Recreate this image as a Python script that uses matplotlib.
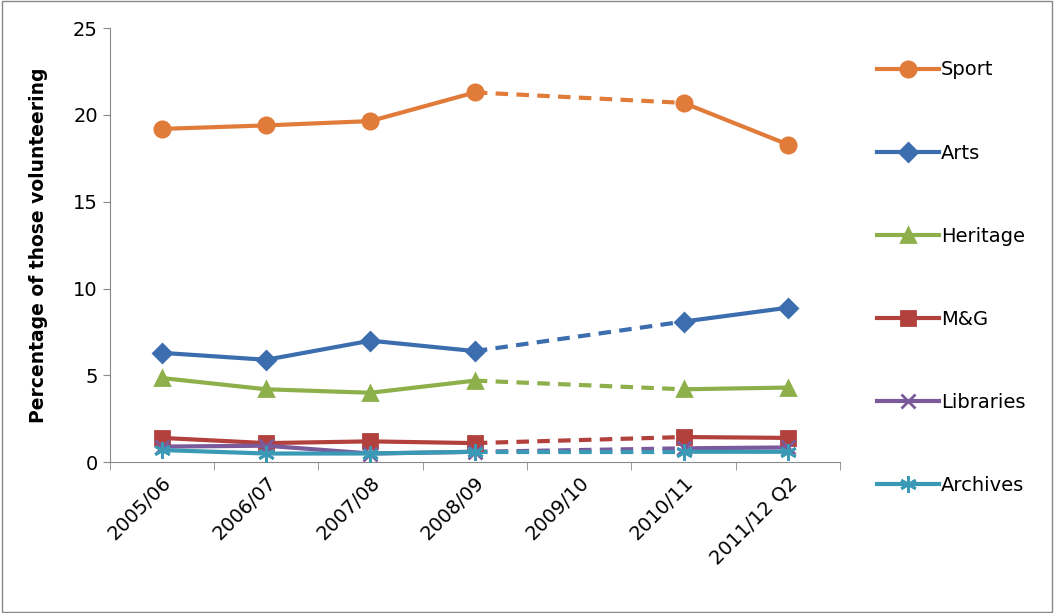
import numpy as np
import matplotlib.pyplot as plt
from matplotlib.lines import Line2D

categories = ["2005/06", "2006/07", "2007/08", "2008/09", "2009/10", "2010/11", "2011/12 Q2"]
sport = [19.2, 19.4, 19.65, 21.3, np.nan, 20.7, 18.3]
arts = [6.3, 5.9, 7.0, 6.4, np.nan, 8.1, 8.9]
heritage = [4.85, 4.2, 4.0, 4.7, np.nan, 4.2, 4.3]
mg = [1.4, 1.1, 1.2, 1.1, np.nan, 1.45, 1.4]
libraries = [0.9, 0.95, 0.5, 0.6, np.nan, 0.8, 0.85]
archives = [0.7, 0.5, 0.5, 0.6, np.nan, 0.6, 0.6]

series = [
    ("Sport", sport, "#E07B39", "o", 11),
    ("Arts", arts, "#3C6EAF", "D", 9),
    ("Heritage", heritage, "#8DB04A", "^", 10),
    ("M&G", mg, "#B2403C", "s", 10),
    ("Libraries", libraries, "#7B5A9C", "x", 10),
    ("Archives", archives, "#3A9AB5", (6, 2, 0), 12),
]

fig = plt.figure(figsize=(10.54, 6.13), dpi=100)
ax = fig.add_axes([0.104, 0.246, 0.693, 0.708])
x = np.arange(len(categories))
handles = []
for name, vals, col, mk, ms in series:
    v = np.array(vals, dtype=float)
    ax.plot(x, v, color=col, lw=3, marker=mk, ms=ms, mew=2, mec=col, zorder=3)
    idx = np.where(np.isnan(v))[0]
    for i in idx:
        ax.plot([x[i-1], x[i+1]], [v[i-1], v[i+1]], color=col, lw=3, ls=(0, (3, 2)), zorder=2)
    handles.append(Line2D([], [], color=col, lw=3, marker=mk, ms=ms, mew=2, mec=col))

ax.set_xlim(-0.5, len(categories) - 0.5)
ax.set_ylim(0, 25)
ax.set_yticks([0, 5, 10, 15, 20, 25])
ax.set_xticks(x)
ax.set_xticklabels(categories, rotation=45, ha="right", rotation_mode="anchor", fontsize=14)
ax.tick_params(axis="y", labelsize=14, length=5, color="#888888")
ax.set_xticks(np.arange(-0.5, len(categories)), minor=True)
ax.tick_params(axis="x", which="major", length=0, pad=8)
ax.tick_params(axis="x", which="minor", length=6, color="#888888")
for s in ["top", "right"]:
    ax.spines[s].set_visible(False)
for s in ["left", "bottom"]:
    ax.spines[s].set_color("#888888")
ax.set_ylabel("Percentage of those volunteering", fontsize=13.5, fontweight="bold", labelpad=18)

fig.legend(handles, [s[0] for s in series], loc="upper left", bbox_to_anchor=(0.815, 0.93),
           frameon=False, fontsize=14, labelspacing=3.3, handlelength=3.2, handletextpad=0.1)

fig.patches.append(plt.Rectangle((0.002, 0.002), 0.996, 0.996, transform=fig.transFigure,
                                 fill=False, ec="#888888", lw=1))
fig.savefig("out.png")
